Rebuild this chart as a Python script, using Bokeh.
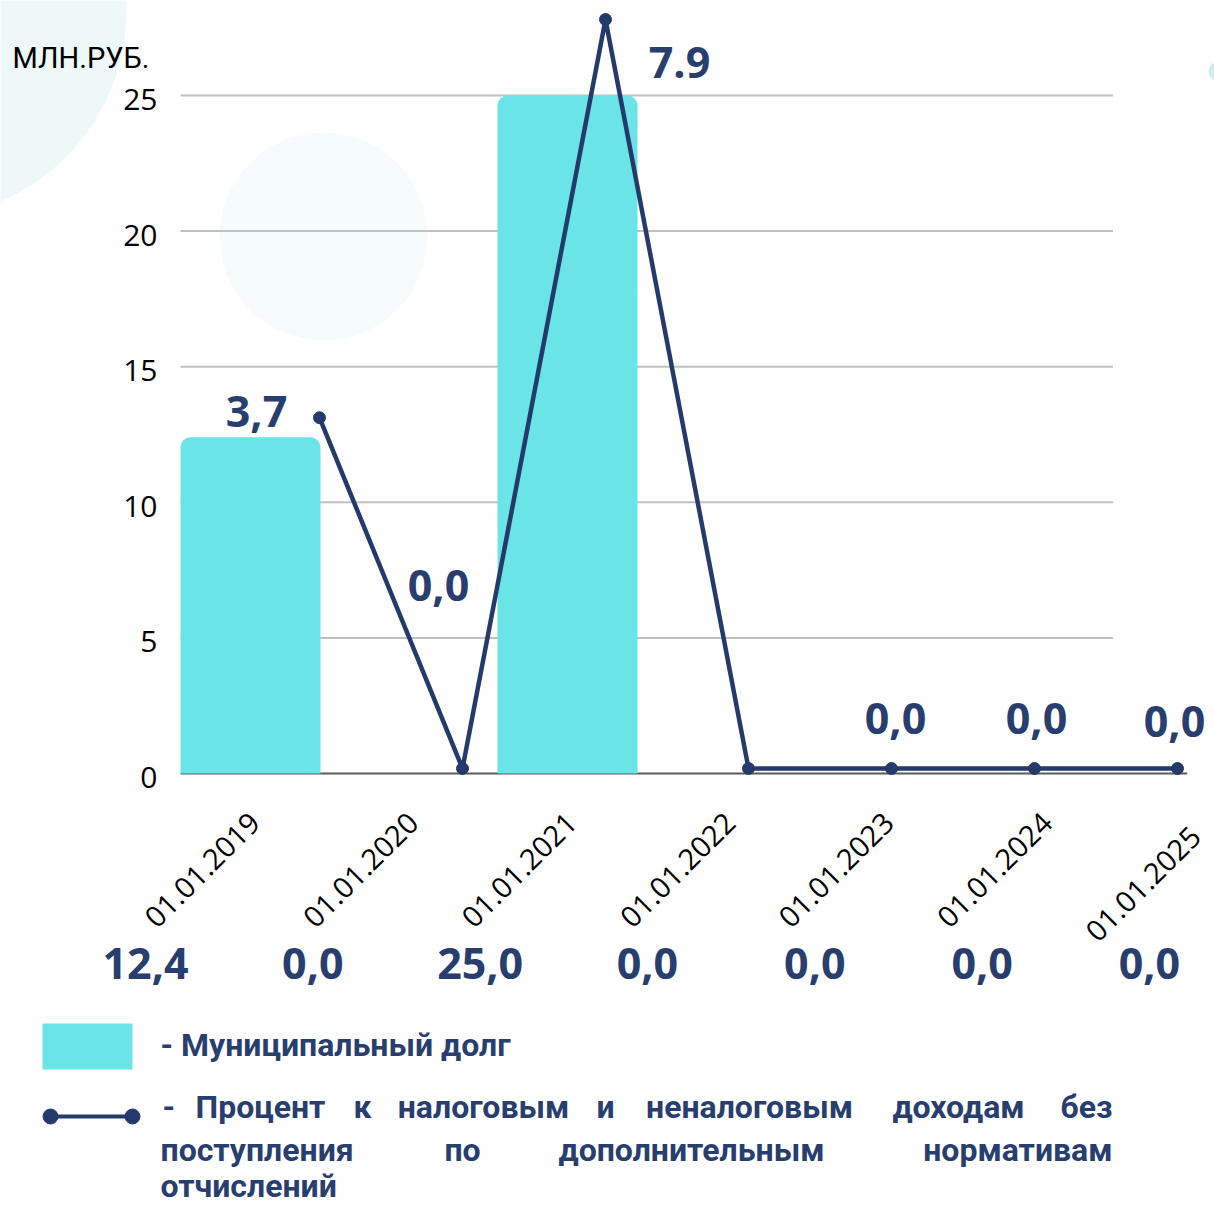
import math
import numpy as np
from bokeh.plotting import figure
from bokeh.models import ColumnDataSource, Range1d, LabelSet
from bokeh.embed import file_html
from bokeh.resources import INLINE
from bokeh.core.properties import value

# ---------------- data ----------------
dates = ["01.01.2019", "01.01.2020", "01.01.2021", "01.01.2022",
         "01.01.2023", "01.01.2024", "01.01.2025"]
debt = [12.4, 0.0, 25.0, 0.0, 0.0, 0.0, 0.0]          # млн руб.
pct = [3.7, 0.0, 7.9, 0.0, 0.0, 0.0, 0.0]             # %
pct_labels = ["3,7", "0,0", "7.9", "", "0,0", "0,0", "0,0"]
y_ticks = [0, 5, 10, 15, 20, 25]
unit_label = "МЛН.РУБ."
legend_debt = "- Муниципальный долг"
legend_pct = ("- Процент к налоговым и неналоговым доходам без "
              "поступления по дополнительным нормативам отчислений")

# ---------------- styles / layout ----------------
W, H = 1214, 1205
NAVY = "#243a6b"
TXT_NAVY = "#283e6e"
CYAN = "#6ae4e7"
GRID = "#c0c0c0"
BASE = "#5a5a5a"
BAR_W = 0.883
NUM_FONT = value("Open Sans")
LEG_FONT = value("Roboto")

idx = list(range(len(dates)))

# main scale: categories 158.5 px apart, 27.12 px per million
p = figure(width=W, height=H, output_backend="svg", toolbar_location=None,
           x_range=Range1d(-1.5773, 6.0820), y_range=Range1d(-15.929, 28.503),
           x_axis_location=None, y_axis_location=None, min_border=0,
           background_fill_color="white", border_fill_color="white",
           outline_line_color=None)
p.xgrid.visible = False
p.ygrid.visible = False
p.extra_x_ranges = {"pct_x": Range1d(-2.2308, 6.2587),
                    "vals": Range1d(-0.8666, 6.3886),
                    "px": Range1d(0, W)}
p.extra_y_ranges = {"pct_y": Range1d(-4.6092, 8.1004),
                    "py": Range1d(H, 0)}

# background decorations (page-pixel layout range)
p.circle(x=[-82, 323, 1218], y=[10, 236, 71], radius=[208, 104, 10],
         radius_units="screen", x_range_name="px", y_range_name="py",
         fill_color=["#edf8f7", "#f5fcfb", "#c9edf0"], line_color=None)

# gridlines over the first six categories, baseline
g_x0 = 0 - BAR_W / 2
g_x1 = (len(dates) - 2) + BAR_W / 2
gy = y_ticks[1:]
p.segment(x0=[g_x0] * len(gy), y0=gy, x1=[g_x1] * len(gy), y1=gy,
          line_color=GRID, line_width=2)
p.segment(x0=[g_x0], y0=[0], x1=[5.91], y1=[0], line_color=BASE, line_width=2)

# bars
p.vbar(x=idx, top=debt, width=BAR_W, fill_color=CYAN, line_color=None,
       border_radius=(10, 10, 0, 0))

# line
p.line(x=idx, y=pct, x_range_name="pct_x", y_range_name="pct_y",
       line_color=NAVY, line_width=4.5)
p.scatter(x=idx, y=pct, x_range_name="pct_x", y_range_name="pct_y",
          marker="circle", size=12, fill_color=NAVY, line_color=NAVY)

# y tick labels
src_yt = ColumnDataSource(dict(x=[157] * len(y_ticks), y=y_ticks,
                               t=[str(t) for t in y_ticks]))
p.add_layout(LabelSet(x="x", y="y", text="t", source=src_yt, x_range_name="px",
                      y_offset=-4, text_font=NUM_FONT, text_font_size="30px",
                      text_color="#000000", text_align="right",
                      text_baseline="middle"))

# x tick labels (rotated); the last one sits a little lower, as in the original
xt_dx = [4, 4, 4, 4, 4, 4, -6]
xt_dy = [-44, -44, -44, -44, -44, -44, -58]
src_xt = ColumnDataSource(dict(x=idx, y=[0] * len(idx), t=dates,
                               xo=xt_dx, yo=xt_dy))
p.add_layout(LabelSet(x="x", y="y", text="t", source=src_xt, angle=math.pi / 4,
                      x_offset="xo", y_offset="yo", text_font=NUM_FONT,
                      text_font_size="29px", text_color="#000000",
                      text_align="right", text_baseline="middle"))

# line labels (offsets in screen px, positive = up)
lab_dx = [-63, -24, 74, 0, 4, 2, -3]
lab_dy = [6, 183, -43, 0, 50, 50, 47]
src_pl = ColumnDataSource(dict(x=idx, y=pct, t=pct_labels, xo=lab_dx, yo=lab_dy))
p.add_layout(LabelSet(x="x", y="y", text="t", source=src_pl,
                      x_range_name="pct_x", y_range_name="pct_y",
                      x_offset="xo", y_offset="yo",
                      text_font=NUM_FONT, text_font_size="43px",
                      text_font_style="bold", text_color=TXT_NAVY,
                      text_align="center", text_baseline="middle"))

# debt values under the date labels
src_v = ColumnDataSource(dict(x=idx, y=[0] * len(idx),
                              t=[f"{v:.1f}".replace(".", ",") for v in debt]))
p.add_layout(LabelSet(x="x", y="y", text="t", source=src_v, x_range_name="vals",
                      y_offset=-190, text_font=NUM_FONT, text_font_size="43px",
                      text_font_style="bold", text_color=TXT_NAVY,
                      text_align="center", text_baseline="middle"))

# unit label
p.text(x=[12], y=[57], text=[unit_label], x_range_name="px", y_range_name="py",
       text_font=value("Roboto"), text_font_size="29px",
       text_color="#000000", text_align="left", text_baseline="middle")

# ---------------- legend (page-pixel layout range) ----------------
p.quad(left=[42], right=[132], top=[1023], bottom=[1069], x_range_name="px",
       y_range_name="py", fill_color=CYAN, line_color=None)
p.text(x=[160], y=[1044], text=[legend_debt], x_range_name="px",
       y_range_name="py", text_font=LEG_FONT, text_font_size="32px",
       text_font_style="bold", text_color=TXT_NAVY, text_align="left",
       text_baseline="middle")
p.line(x=[50, 132], y=[1116, 1116], x_range_name="px", y_range_name="py",
       line_color=NAVY, line_width=4)
p.scatter(x=[50, 132], y=[1116, 1116], x_range_name="px", y_range_name="py",
          marker="circle", size=15, fill_color=NAVY, line_color=NAVY)

words = legend_pct.split()
line_counts = [8, 4, 1]
line_y = [1106, 1149, 1185]
word_x = [162, 260, 362, 483, 605, 749, 958, 1112,
          160, 462, 691, 1112,
          160]
wx, wy, wt, wa = [], [], [], []
k = 0
for n, yy in zip(line_counts, line_y):
    for j in range(n):
        wt.append(words[k])
        wx.append(word_x[k])
        wy.append(yy)
        wa.append("left" if j == 0 else ("right" if j == n - 1 else "center"))
        k += 1
src_w = ColumnDataSource(dict(x=wx, y=wy, t=wt, a=wa))
p.text(x="x", y="y", text="t", text_align="a", source=src_w,
       x_range_name="px", y_range_name="py",
       text_font=LEG_FONT, text_font_size="32px", text_font_style="bold",
       text_color=TXT_NAVY, text_baseline="middle")

open("out.html", "w").write(file_html(p, INLINE))
